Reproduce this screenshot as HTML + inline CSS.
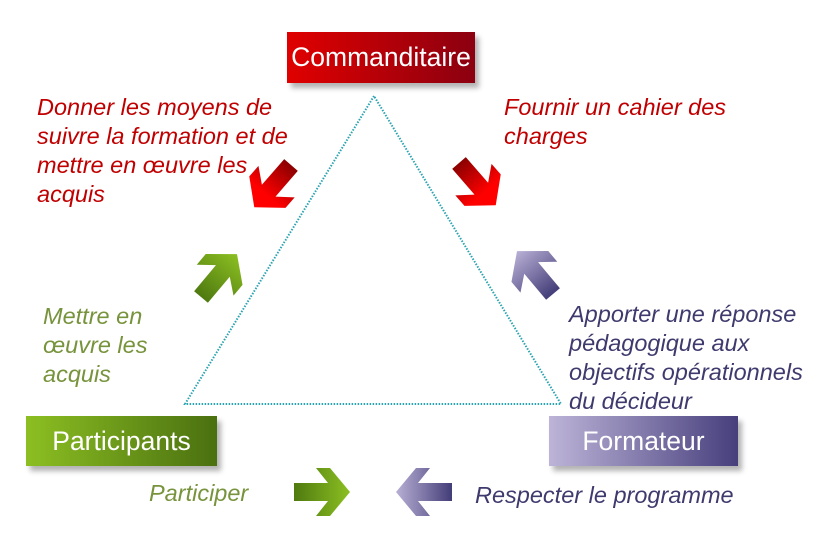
<!DOCTYPE html>
<html><head><meta charset="utf-8"><style>
body{margin:0;width:821px;height:536px;background:#fff;overflow:hidden;position:relative;font-family:"Liberation Sans",sans-serif}
.box{position:absolute;color:#fff;font-size:26.5px;display:flex;align-items:center;justify-content:center;box-shadow:4px 5px 5px rgba(0,0,0,.3)}
.t{position:absolute;font-style:italic;font-size:23.5px;line-height:29px;white-space:nowrap}
</style></head><body>
<svg width="821" height="536" style="position:absolute;left:0;top:0">
<defs>
<linearGradient id="r" x1="0" x2="1"><stop offset="0" stop-color="#8b0000"/><stop offset="0.7" stop-color="#f00"/></linearGradient>
<linearGradient id="g" x1="0" x2="1"><stop offset="0" stop-color="#4f7a10"/><stop offset="1" stop-color="#8cbf22"/></linearGradient>
<linearGradient id="p" x1="0" x2="1"><stop offset="0" stop-color="#433d78"/><stop offset="1" stop-color="#b9b0d5"/></linearGradient>
<polygon id="a" points="0,-9 34,-9 22,-24 36,-24 56,0 36,24 22,24 34,9 0,9"/>
</defs>
<polygon points="374,96 185,404 561,404" fill="none" stroke="#2aa3b0" stroke-width="2" stroke-dasharray="1.5 1.5"/>
<use href="#a" fill="url(#r)" transform="translate(291,165) rotate(131)"/>
<use href="#a" fill="url(#r)" transform="translate(459,163) rotate(49)"/>
<use href="#a" fill="url(#g)" transform="translate(201,297) rotate(-50)"/>
<use href="#a" fill="url(#p)" transform="translate(553,294) rotate(-130)"/>
<use href="#a" fill="url(#g)" transform="translate(294,492)"/>
<use href="#a" fill="url(#p)" transform="translate(452,492) rotate(180)"/>
</svg>
<div class="box" style="left:287px;top:32px;width:188px;height:51px;background:linear-gradient(90deg,#e00000,#8b0010)">Commanditaire</div>
<div class="box" style="left:26px;top:416px;width:191px;height:50px;background:linear-gradient(90deg,#8cbf22,#4a7010)">Participants</div>
<div class="box" style="left:549px;top:416px;width:189px;height:50px;background:linear-gradient(90deg,#bdb4d8,#463f7c)">Formateur</div>
<div class="t" style="left:37px;top:93px;color:#c00000">Donner les moyens de<br>suivre la formation et de<br>mettre en œuvre les<br>acquis</div>
<div class="t" style="left:504px;top:93px;color:#c00000">Fournir un cahier des<br>charges</div>
<div class="t" style="left:43px;top:302px;color:#77933c">Mettre en<br>œuvre les<br>acquis</div>
<div class="t" style="left:569px;top:300px;color:#3f3a6e">Apporter une réponse<br>pédagogique aux<br>objectifs opérationnels<br>du décideur</div>
<div class="t" style="left:149px;top:479px;color:#77933c">Participer</div>
<div class="t" style="left:475px;top:481px;color:#3f3a6e">Respecter le programme</div>
</body></html>
